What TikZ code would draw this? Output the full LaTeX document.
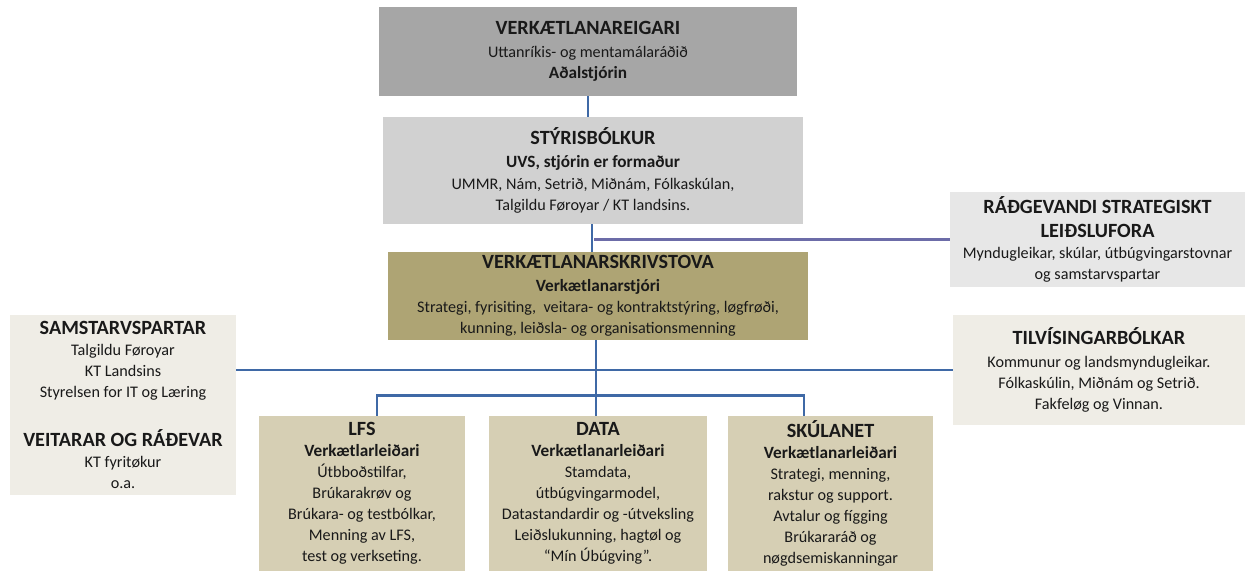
\documentclass[tikz,border=0pt]{standalone}
\usepackage{fontspec}
\setmainfont{Carlito}
\usetikzlibrary{positioning}

\definecolor{ownergray}{HTML}{A6A6A6}
\definecolor{steergray}{HTML}{D1D1D1}
\definecolor{advisegray}{HTML}{E7E7E7}
\definecolor{officeolive}{HTML}{AEA474}
\definecolor{paletan}{HTML}{EFEDE6}
\definecolor{leadtan}{HTML}{D6CFB4}
\definecolor{linkblue}{HTML}{3F69A6}
\definecolor{linkviolet}{HTML}{6C6CA8}

\newcommand{\headline}[1]{{\fontsize{11.5}{14}\selectfont\bfseries #1}}
\newcommand{\subline}[1]{{\fontsize{9.8}{12}\selectfont\bfseries #1}}

\begin{document}
\begin{tikzpicture}[
x=0.02cm, y=-0.02cm,
unit/.style={
		align=center,
		inner sep=0pt,
		text=black!90,
		font=\fontsize{9.2}{12}\selectfont,
		},
owner/.style={unit, fill=ownergray},
steer/.style={unit, fill=steergray},
advise/.style={unit, fill=advisegray},
office/.style={unit, fill=officeolive},
outside/.style={unit, fill=paletan},
lead/.style={unit, fill=leadtan, minimum height=3.1cm},
link/.style={draw=linkblue, line width=1.4pt},
]

\useasboundingbox[fill=white] (0,0) rectangle (1247,571);

% top of the tree
\node[owner, minimum width=8.36cm, minimum height=1.78cm] (eigari) at (588,51.5)
  {\headline{VERKÆTLANAREIGARI}\\[1pt]Uttanríkis- og mentamálaráðið\\\subline{Aðalstjórin}};

\node[steer, minimum width=8.4cm, minimum height=2.14cm] (styri) at (593,170.5)
  {\headline{STÝRISBÓLKUR}\\[1pt]\subline{UVS, stjórin er formaður}\\[1pt]UMMR, Nám, Setrið, Miðnám, Fólkaskúlan,\\Talgildu Føroyar / KT landsins.};

\node[advise, minimum width=5.9cm, minimum height=1.9cm] (radgevandi) at (1097.5,239.5)
  {\headline{RÁÐGEVANDI STRATEGISKT}\\[2pt]\headline{LEIÐSLUFORA}\\Myndugleikar, skúlar, útbúgvingarstovnar\\og samstarvspartar};

\node[office, minimum width=8.4cm, minimum height=1.76cm] (skrivstova) at (598,296)
  {\headline{VERKÆTLANARSKRIVSTOVA}\\[1pt]\subline{Verkætlanarstjóri}\\Strategi, fyrisiting,\ \ veitara- og kontraktstýring, løgfrøði,\\kunning, leiðsla- og organisationsmenning};

% sides
\node[outside, minimum width=4.52cm, minimum height=3.6cm] (partar) at (123,405)
  {\headline{SAMSTARVSPARTAR}\\Talgildu Føroyar\\KT Landsins\\Styrelsen for IT og Læring\\[16pt]\headline{VEITARAR OG RÁÐEVAR}\\KT fyritøkur\\o.a.};

\node[outside, minimum width=5.84cm, minimum height=2.2cm] (tilvising) at (1099,370)
  {\headline{TILVÍSINGARBÓLKAR}\\[1pt]Kommunur og landsmyndugleikar.\\Fólkaskúlin, Miðnám og Setrið.\\Fakfeløg og Vinnan.};

% the three projects
\node[lead, minimum width=4.12cm] (lfs) at (362,493.5)
  {\headline{LFS}\\\subline{Verkætlarleiðari}\\Útbboðstilfar,\\Brúkarakrøv og\\Brúkara- og testbólkar,\\Menning av LFS,\\test og verkseting.};

\node[lead, minimum width=4.36cm] (data) at (598,493.5)
  {\headline{DATA}\\\subline{Verkætlanarleiðari}\\Stamdata,\\útbúgvingarmodel,\\Datastandardir og -útveksling\\Leiðslukunning, hagtøl og\\“Mín Úbúgving”.};

\node[lead, minimum width=4.1cm] (skulanet) at (830.5,493.5)
  {\headline{SKÚLANET}\\\subline{Verkætlanarleiðari}\\Strategi, menning,\\rakstur og support.\\Avtalur og fígging\\Brúkararáð og\\nøgdsemiskanningar};

\draw[link] (eigari.south) -- (eigari.south |- styri.north);
\draw[link] ([xshift=-0.02cm]styri.south) -- ([xshift=-0.02cm]styri.south |- skrivstova.north);
\draw[draw=linkviolet, line width=1.4pt] ([xshift=0.02cm]styri.south |- radgevandi.west) -- (radgevandi.west);
\draw[link] ([xshift=-0.04cm]skrivstova.south) -- ([xshift=-0.04cm]data.north);
\draw[link] (partar.east |- tilvising.west) -- (tilvising.west);
\draw[link] ([xshift=0.3cm]lfs.north) -- ++(0,-20) -| ([xshift=-0.53cm]skulanet.north);

\end{tikzpicture}
\end{document}
